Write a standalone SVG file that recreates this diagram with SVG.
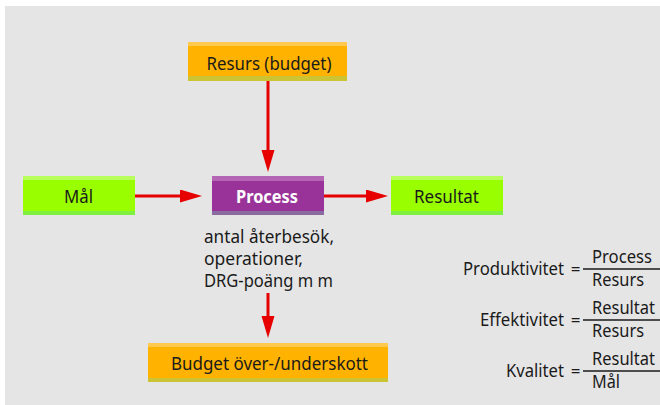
<svg xmlns="http://www.w3.org/2000/svg" width="660" height="405" viewBox="0 0 660 405">
  <defs>
    <marker id="arrow" markerUnits="userSpaceOnUse" markerWidth="23" markerHeight="14" refX="0" refY="6.5" orient="auto">
      <path d="M0,0 L22,6.5 L0,13 z" fill="#e60000"/>
    </marker>
    <style>
      text { font-family: "Noto Sans", "Open Sans", sans-serif; font-size: 18px; fill: #1a1a1a; }
      .c { text-anchor: middle; }
      .e { text-anchor: end; }
      .eq { text-anchor: middle; font-size: 17px; }
      .bold { font-weight: bold; fill: #ffffff; }
      .orange { fill: #ffb300; }
      .orange-top { fill: #ffc94d; }
      .orange-bot { fill: #cdc433; }
      .green { fill: #99ff00; }
      .green-top { fill: #b8ff5c; }
      .green-bot { fill: #80f040; }
      .purple { fill: #993399; }
      .purple-top { fill: #b466b4; }
      .purple-bot { fill: #8a6ba0; }
      .conn { stroke: #e60000; stroke-width: 3; fill: none; marker-end: url(#arrow); }
      .frac { stroke: #1a1a1a; stroke-width: 1.5; }
    </style>
  </defs>

  <!-- panel -->
  <rect x="5" y="6" width="655" height="399" fill="#e5e5e5"/>

  <!-- connectors -->
  <g id="connectors">
    <line class="conn" x1="268" y1="81" x2="268" y2="150"/>
    <line class="conn" x1="135" y1="196" x2="180" y2="196"/>
    <line class="conn" x1="324" y1="196" x2="366" y2="196"/>
    <line class="conn" x1="268" y1="293" x2="268" y2="316"/>
  </g>

  <g id="resurs">
    <rect class="orange" x="188" y="42" width="159" height="39"/>
    <rect class="orange-top" x="188" y="42" width="159" height="4"/>
    <rect class="orange-bot" x="188" y="76" width="159" height="5"/>
    <text class="c" x="269" y="70" textLength="125" lengthAdjust="spacingAndGlyphs">Resurs (budget)</text>
  </g>

  <g id="mal">
    <rect class="green" x="23" y="176" width="112" height="39"/>
    <rect class="green-top" x="23" y="176" width="112" height="4"/>
    <rect class="green-bot" x="23" y="211" width="112" height="4"/>
    <text class="c" x="78.5" y="203" textLength="29" lengthAdjust="spacingAndGlyphs">Mål</text>
  </g>

  <g id="process">
    <rect class="purple" x="212" y="176" width="112" height="39"/>
    <rect class="purple-top" x="212" y="176" width="112" height="5"/>
    <rect class="purple-bot" x="212" y="211" width="112" height="4"/>
    <text class="c bold" x="267" y="203" textLength="62" lengthAdjust="spacingAndGlyphs">Process</text>
  </g>

  <g id="resultat">
    <rect class="green" x="391" y="176" width="112" height="39"/>
    <rect class="green-top" x="391" y="176" width="112" height="4"/>
    <rect class="green-bot" x="391" y="211" width="112" height="4"/>
    <text class="c" x="446.5" y="203" textLength="65" lengthAdjust="spacingAndGlyphs">Resultat</text>
  </g>

  <g id="process-note">
    <text x="204" y="243" textLength="130" lengthAdjust="spacingAndGlyphs">antal återbesök,</text>
    <text x="204" y="265" textLength="99" lengthAdjust="spacingAndGlyphs">operationer,</text>
    <text x="204" y="287" textLength="129" lengthAdjust="spacingAndGlyphs">DRG-poäng m m</text>
  </g>

  <g id="budget">
    <rect class="orange" x="148" y="343" width="240" height="39"/>
    <rect class="orange-top" x="148" y="343" width="240" height="4"/>
    <rect class="orange-bot" x="148" y="378" width="240" height="4"/>
    <text class="c" x="269.5" y="370" textLength="197" lengthAdjust="spacingAndGlyphs">Budget över-/underskott</text>
  </g>

  <!-- ratios -->
  <g id="produktivitet">
    <text class="e" x="564" y="275" textLength="101" lengthAdjust="spacingAndGlyphs">Produktivitet</text>
    <text class="eq" x="575.5" y="275">=</text>
    <line class="frac" x1="583" y1="269" x2="660" y2="269"/>
    <text x="592" y="263" textLength="60" lengthAdjust="spacingAndGlyphs">Process</text>
    <text x="592" y="286" textLength="52" lengthAdjust="spacingAndGlyphs">Resurs</text>
  </g>
  <g id="effektivitet">
    <text class="e" x="564" y="326" textLength="84" lengthAdjust="spacingAndGlyphs">Effektivitet</text>
    <text class="eq" x="575.5" y="326">=</text>
    <line class="frac" x1="583" y1="320" x2="660" y2="320"/>
    <text x="592" y="314" textLength="63" lengthAdjust="spacingAndGlyphs">Resultat</text>
    <text x="592" y="337" textLength="52" lengthAdjust="spacingAndGlyphs">Resurs</text>
  </g>
  <g id="kvalitet">
    <text class="e" x="564" y="377" textLength="58" lengthAdjust="spacingAndGlyphs">Kvalitet</text>
    <text class="eq" x="575.5" y="377">=</text>
    <line class="frac" x1="583" y1="371" x2="660" y2="371"/>
    <text x="592" y="365" textLength="63" lengthAdjust="spacingAndGlyphs">Resultat</text>
    <text x="592" y="388" textLength="28" lengthAdjust="spacingAndGlyphs">Mål</text>
  </g>
</svg>
